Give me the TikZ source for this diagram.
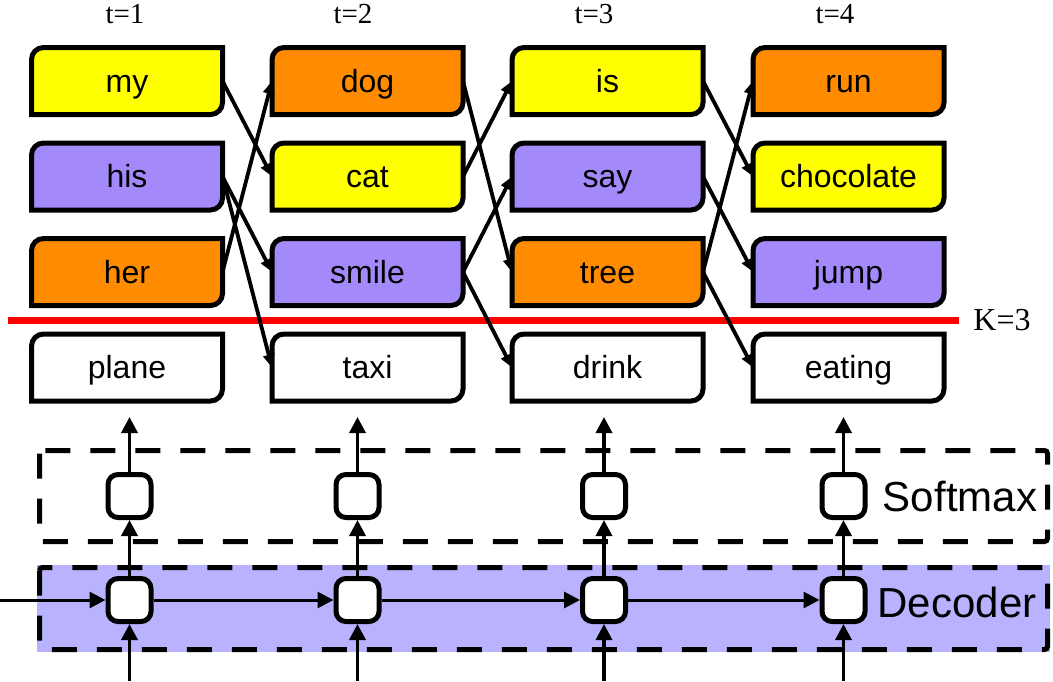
\documentclass[tikz,border=0pt]{standalone}
\usepackage{fontspec}
\setmainfont{Liberation Serif}
\setsansfont{Liberation Sans}
\usetikzlibrary{arrows.meta,backgrounds,calc}

\definecolor{wyellow}{RGB}{255,255,0}
\definecolor{worange}{RGB}{255,140,0}
\definecolor{wpurple}{RGB}{163,137,250}
\definecolor{decband}{RGB}{185,178,255}

% word box: rounded top-left and bottom-right corners, square elsewhere
\newcommand{\wordbox}[5]{%
  \node[word] (#1) at (#2,#3) {#5};
  \begin{scope}[on background layer]
    \filldraw[wordframe, fill=#4] (#1.north) [rounded corners=12pt] -- (#1.north west) -- (#1.west)
      [sharp corners] -- (#1.south west) -- (#1.south)
      [rounded corners=12pt] -- (#1.south east) -- (#1.east)
      [sharp corners] -- (#1.north east) -- cycle;
  \end{scope}}

\begin{document}
\begin{tikzpicture}[x=1pt,y=-1pt,
  word/.style={minimum width=191pt, minimum height=67pt, inner sep=0pt, outer sep=0pt,
    text height=26pt, text depth=4pt,
    font=\sffamily\fontsize{32}{32}\selectfont},
  wordframe/.style={line width=5pt, draw=black},
  link/.style={line width=3.8pt, -{Triangle[length=13pt,width=11pt]}},
  flow/.style={line width=3.5pt, -{Triangle[length=16pt,width=16pt]}},
  hflow/.style={line width=3pt, -{Triangle[length=16pt,width=16pt]}},
  cell/.style={draw, line width=5pt, rounded corners=10pt, minimum size=43pt,
    inner sep=0pt, outer sep=2.5pt, fill=white},
  dashframe/.style={line width=5pt, dash pattern=on 25pt off 20pt, rounded corners=3pt},
  tlabel/.style={inner sep=0pt, font=\rmfamily\fontsize{29}{29}\selectfont},
  klabel/.style={inner sep=0pt, font=\rmfamily\fontsize{32}{32}\selectfont},
  blocklabel/.style={inner sep=0pt, font=\sffamily\fontsize{42}{42}\selectfont},
  kline/.style={line width=7pt, draw=red}
]
\useasboundingbox (0,0) rectangle (1053,681);

% time step labels
\node[tlabel] (t1) at (125,14.5) {t=1};
\node[tlabel] (t2) at (353,14.5) {t=2};
\node[tlabel] (t3) at (594,14.5) {t=3};
\node[tlabel] (t4) at (835,14.5) {t=4};

% candidate words per step
\wordbox{my}{127}{81}{wyellow}{my}
\wordbox{his}{127}{176.5}{wpurple}{his}
\wordbox{her}{127}{272}{worange}{her}
\wordbox{plane}{127}{367.5}{white}{plane}

\wordbox{dog}{367.5}{81}{worange}{dog}
\wordbox{cat}{367.5}{176.5}{wyellow}{cat}
\wordbox{smile}{367.5}{272}{wpurple}{smile}
\wordbox{taxi}{367.5}{367.5}{white}{taxi}

\wordbox{is}{607.5}{81}{wyellow}{is}
\wordbox{say}{607.5}{176.5}{wpurple}{say}
\wordbox{tree}{607.5}{272}{worange}{tree}
\wordbox{drink}{607.5}{367.5}{white}{drink}

\wordbox{run}{848.5}{81}{worange}{run}
\wordbox{chocolate}{848.5}{176.5}{wyellow}{chocolate}
\wordbox{jump}{848.5}{272}{wpurple}{jump}
\wordbox{eating}{848.5}{367.5}{white}{eating}

% beam width cut-off
\coordinate (kl) at (8,320);
\coordinate (kr) at (959,320);
\draw[kline] (kl) -- (kr);
\node[klabel] (k) at (1002,320.5) {K=3};

% beam links
\draw[link] (my.east) -- (cat.west);
\draw[link] (her.east) -- (dog.west);
\draw[link] (his.east) -- (smile.west);
\draw[link] (his.east) -- (taxi.west);

\draw[link] (dog.east) -- (tree.west);
\draw[link] (cat.east) -- (is.west);
\draw[link] (smile.east) -- (say.west);
\draw[link] (smile.east) -- (drink.west);

\draw[link] (is.east) -- (chocolate.west);
\draw[link] (say.east) -- (jump.west);
\draw[link] (tree.east) -- (run.west);
\draw[link] (tree.east) -- (eating.west);

% decoder band and softmax block
\fill[decband] (37,565) rectangle (1050,652);
\draw[dashframe] (39.5,567.5) rectangle (1047.5,649.5);
\draw[dashframe] (39.5,450.5) rectangle (1047.5,541.5);
\node[blocklabel] (smlabel) at (960,497) {Softmax};
\node[blocklabel] (declabel) at (957,602) {Decoder};

% cells
\foreach \i/\x in {1/129.5,2/357.5,3/604,4/843.5}{
  \node[cell] (s\i) at (\x,496) {};
  \node[cell] (d\i) at (\x,600) {};
  \coordinate (o\i) at (\x,417);
  \coordinate (in\i) at (\x,681);
  \draw[flow] (d\i) -- (s\i);
  \draw[flow] (s\i) -- (o\i);
  \draw[flow] (in\i) -- (d\i);
}
\coordinate (h0) at (0,600);
\draw[hflow] (h0) -- (d1);
\draw[hflow] (d1) -- (d2);
\draw[hflow] (d2) -- (d3);
\draw[hflow] (d3) -- (d4);
\end{tikzpicture}
\end{document}
